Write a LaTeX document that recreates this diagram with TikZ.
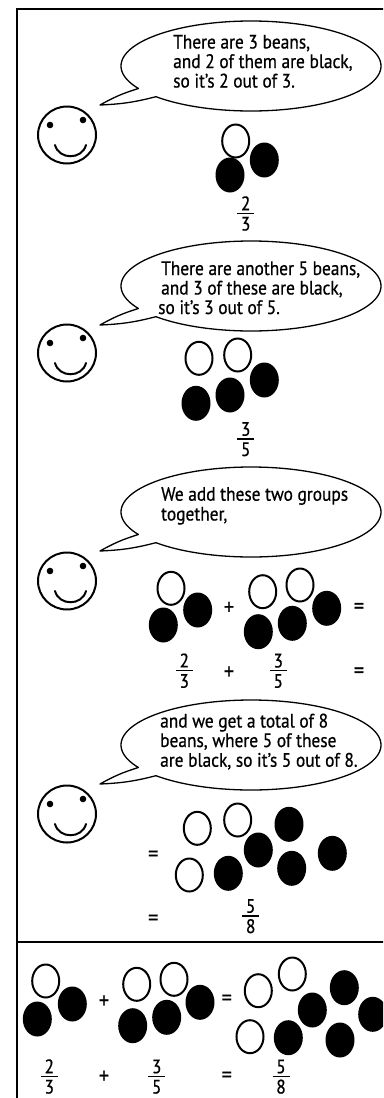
\documentclass[tikz,border=0pt]{standalone}
\usepackage{fontspec}
\setmainfont{PT Sans}[FakeStretch=0.89, FakeBold=0.6]
\usetikzlibrary{shapes.geometric}
\newcommand\capfont{\fontsize{19.5}{20}\selectfont}
\newcommand\opfont{\fontsize{23}{24}\selectfont}
\tikzset{
  frame line/.style={line width=1.5},
  bubble line/.style={line width=1.3, fill=white, line join=round},
  say/.style={anchor=base west, inner sep=0, font=\capfont},
  sym/.style={inner sep=0, font=\opfont},
  digit/.style={anchor=base, inner sep=0, font=\capfont},
  wbean/.style={ellipse, draw, line width=2, fill=white, minimum width=27, minimum height=33, inner sep=0},
  bbean/.style={ellipse, fill=black, minimum width=29, minimum height=35, inner sep=0},
  head/.style={ellipse, draw, line width=2, minimum width=58, minimum height=57, inner sep=0},
  smile/.style={line width=2, line cap=round},
}
% speech bubble: centre x, centre y
\newcommand\speech[2]{%
  \draw[bubble line] plot[domain=150:497, samples=140, smooth]
    ({#1+130*cos(\x)},{#2+45*sin(\x)})
    to[bend left=6] (#1-151,#2+39)
    to[bend left=6] ({#1+130*cos(150)},{#2+45*sin(150)}) -- cycle;}
% smiling face: name, centre x, centre y
\newcommand\smiley[3]{%
  \node[head] (#1) at (#2,#3) {};
  \fill (#2-17,#3-10) circle[radius=3.3];
  \fill (#2+16,#3-15) circle[radius=3.3];
  \draw[smile] (#2-12,#3+10) .. controls (#2-8,#3+25) and (#2+15,#3+25) .. (#2+19,#3+10);}
% fraction: name, x, bar y, numerator, denominator
\newcommand\fraction[5]{%
  \node[digit] (#1n) at (#2,#3-3.3) {#4};
  \node[digit] (#1d) at (#2,#3+17) {#5};
  \draw[line width=1.3] (#2-8.5,#3) -- (#2+8.5,#3);}
\begin{document}
\begin{tikzpicture}[x=1pt,y=-1pt]
\useasboundingbox (0,0) rectangle (383,1098);
\clip (0,0) rectangle (383,1098);
\fill[white] (0,0) rectangle (383,1098);

% frame and separator
\draw[frame line] (17,1100) -- (17,9) -- (385,9);
\draw[frame line] (17,942) -- (385,942);

% ---- first group: 2 out of 3
\speech{251}{66}
\node[say] (t1a) at (173,48.5) {There are 3 beans,};
\node[say] (t1b) at (173,68) {and 2 of them are black,};
\node[say] (t1c) at (173,87.5) {so it's 2 out of 3.};
\smiley{f1}{67}{135}
\node[wbean] (a1) at (235.7,141) {};
\node[bbean] (a2) at (264.3,160) {};
\node[bbean] (a3) at (230,175) {};
\fraction{fa}{245.7}{213.5}{2}{3}

% ---- second group: 3 out of 5
\speech{251}{286}
\node[say] (t2a) at (161,275) {There are another 5 beans,};
\node[say] (t2b) at (161,294.5) {and 3 of these are black,};
\node[say] (t2c) at (158,314) {so it's 3 out of 5.};
\smiley{f2}{67}{353}
\node[wbean] (b1) at (199,358.3) {};
\node[wbean] (b2) at (237.7,355) {};
\node[bbean] (b3) at (264.3,380) {};
\node[bbean] (b4) at (230,395) {};
\node[bbean] (b5) at (196,403.3) {};
\fraction{fb}{245.7}{439}{3}{5}

% ---- adding the groups
\speech{251}{512}
\node[say] (t3a) at (161,500.7) {We add these two groups};
\node[say] (t3b) at (161,520.5) {together,};
\smiley{f3}{67}{581}
\node[wbean] (c1) at (171,588.3) {};
\node[bbean] (c2) at (197.7,610) {};
\node[bbean] (c3) at (163.3,625) {};
\node[sym] (cplus) at (229,608.3) {+};
\node[wbean] (d1) at (262.7,591.7) {};
\node[wbean] (d2) at (300,585) {};
\node[bbean] (d3) at (326.7,608.3) {};
\node[bbean] (d4) at (292.3,623.3) {};
\node[bbean] (d5) at (258.3,631.7) {};
\node[sym] (ceq) at (359,608.3) {=};
\fraction{fc}{184.3}{670.7}{2}{3}
\node[sym] (cplus2) at (229,672.7) {+};
\fraction{fd}{278.3}{670.7}{3}{5}
\node[sym] (ceq2) at (359,672.7) {=};

% ---- the total
\speech{251}{745}
\node[say] (t4a) at (160,727.5) {and we get a total of 8};
\node[say] (t4b) at (160,747) {beans, where 5 of these};
\node[say] (t4c) at (160,766.7) {are black, so it's 5 out of 8.};
\smiley{f4}{67}{814}
\node[sym] (eeq) at (153.3,856) {=};
\node[wbean] (e1) at (197.3,828.3) {};
\node[wbean] (e2) at (237.7,820) {};
\node[wbean] (e3) at (189.3,875) {};
\node[bbean] (e4) at (289,824.3) {};
\node[bbean] (e5) at (258.3,850) {};
\node[bbean] (e6) at (332.3,853.3) {};
\node[bbean] (e7) at (228.3,873.3) {};
\node[bbean] (e8) at (291.7,868.3) {};
\node[sym] (eeq2) at (153.3,920) {=};
\fraction{fe}{250.7}{916}{5}{8}

% ---- summary row
\node[wbean] (g1) at (45.7,981) {};
\node[bbean] (g2) at (72.3,1004) {};
\node[bbean] (g3) at (37.3,1019) {};
\node[sym] (gplus) at (104,1001.7) {+};
\node[wbean] (h1) at (136.7,984.3) {};
\node[wbean] (h2) at (174,979.3) {};
\node[bbean] (h3) at (200,1002.3) {};
\node[bbean] (h4) at (166.7,1017.3) {};
\node[bbean] (h5) at (132.7,1025.7) {};
\node[sym] (geq) at (226.7,1000) {=};
\node[wbean] (k1) at (258.3,990.7) {};
\node[wbean] (k2) at (292.3,974) {};
\node[wbean] (k3) at (250,1036.7) {};
\node[bbean] (k4) at (312.3,1010) {};
\node[bbean] (k5) at (344.3,987.7) {};
\node[bbean] (k6) at (372.7,1014.3) {};
\node[bbean] (k7) at (288.3,1037.7) {};
\node[bbean] (k8) at (340,1040) {};
\fraction{fg}{49.3}{1076.5}{2}{3}
\node[sym] (gplus2) at (104,1077) {+};
\fraction{fh}{156.7}{1076.5}{3}{5}
\node[sym] (geq2) at (226.7,1077) {=};
\fraction{fk}{281}{1076.5}{5}{8}
\end{tikzpicture}
\end{document}
